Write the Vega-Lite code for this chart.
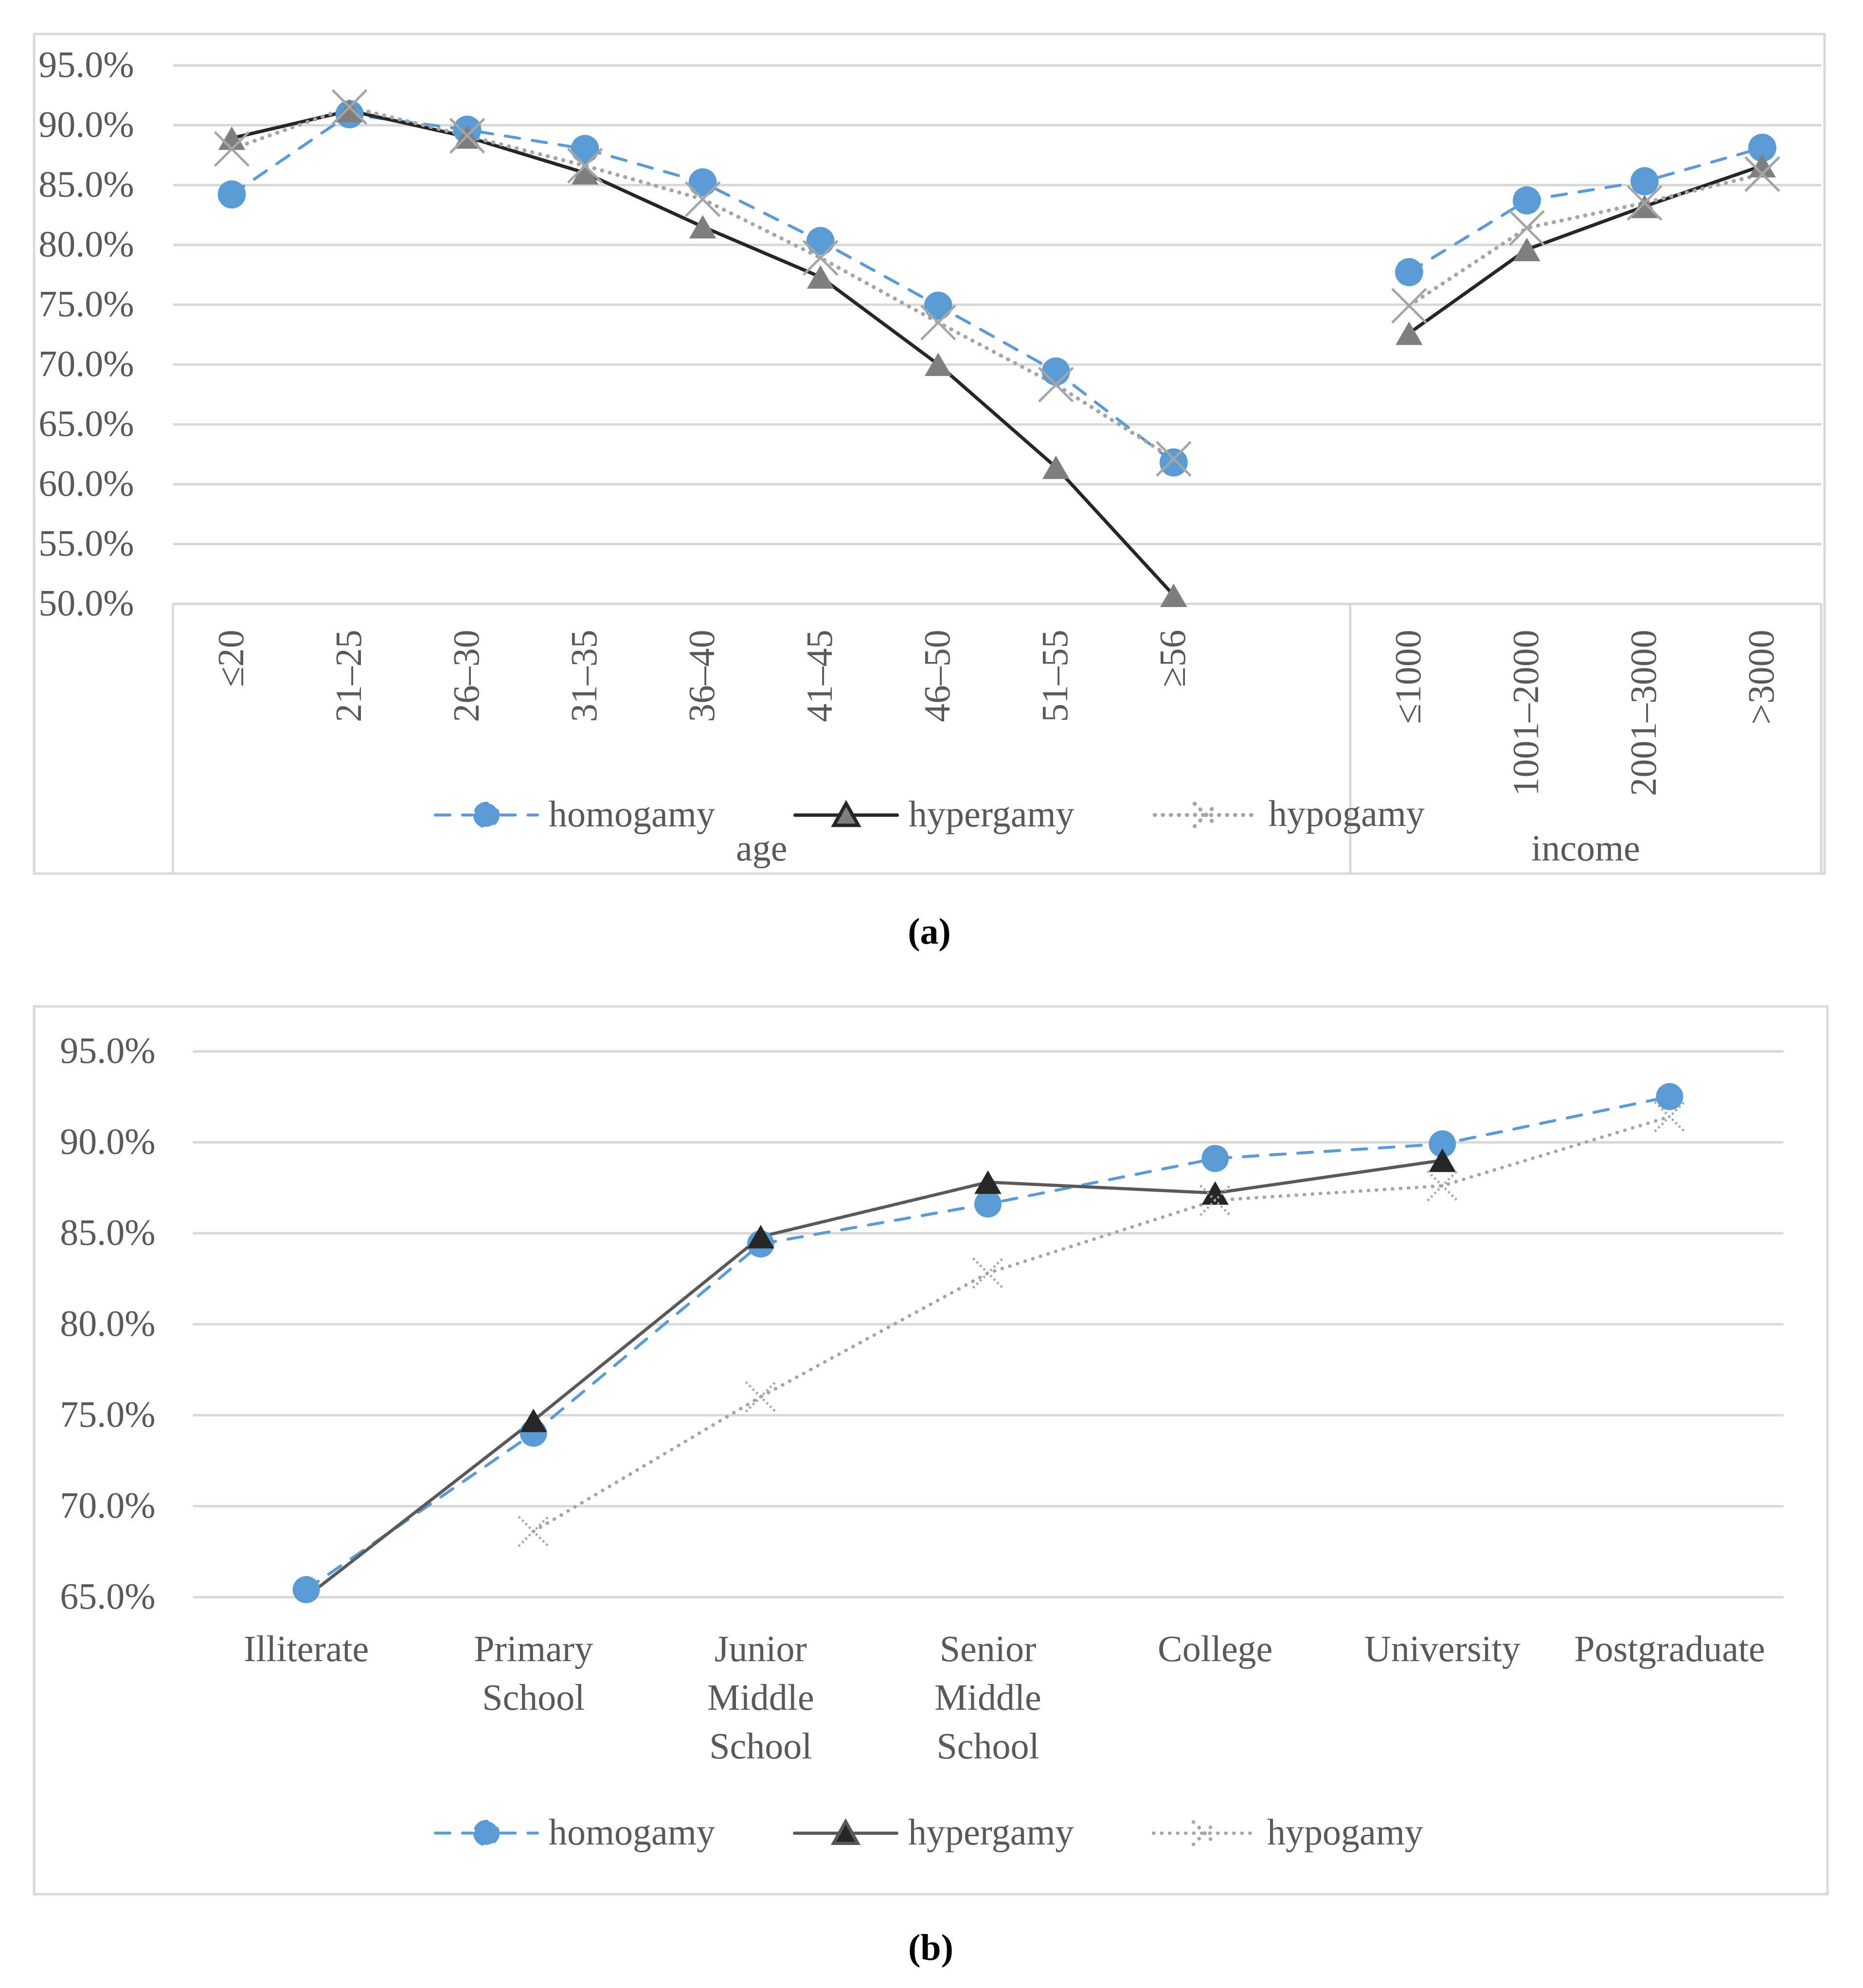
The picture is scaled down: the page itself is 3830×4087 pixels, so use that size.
{
  "$schema": "https://vega.github.io/schema/vega-lite/v6.json",
  "background": "white",
  "padding": {"left": 67, "top": 67, "right": 0, "bottom": 0},
  "spacing": 108,
  "datasets": {
    "a": [
      {"group": "age", "cat": "≤20", "series": "homogamy", "value": 0.842},
      {"group": "age", "cat": "21–25", "series": "homogamy", "value": 0.909},
      {"group": "age", "cat": "26–30", "series": "homogamy", "value": 0.896},
      {"group": "age", "cat": "31–35", "series": "homogamy", "value": 0.880},
      {"group": "age", "cat": "36–40", "series": "homogamy", "value": 0.852},
      {"group": "age", "cat": "41–45", "series": "homogamy", "value": 0.803},
      {"group": "age", "cat": "46–50", "series": "homogamy", "value": 0.749},
      {"group": "age", "cat": "51–55", "series": "homogamy", "value": 0.694},
      {"group": "age", "cat": "≥56", "series": "homogamy", "value": 0.618},
      {"group": "income", "cat": "≤1000", "series": "homogamy", "value": 0.777},
      {"group": "income", "cat": "1001–2000", "series": "homogamy", "value": 0.837},
      {"group": "income", "cat": "2001–3000", "series": "homogamy", "value": 0.853},
      {"group": "income", "cat": ">3000", "series": "homogamy", "value": 0.881},
      {"group": "age", "cat": "≤20", "series": "hypergamy", "value": 0.889},
      {"group": "age", "cat": "21–25", "series": "hypergamy", "value": 0.912},
      {"group": "age", "cat": "26–30", "series": "hypergamy", "value": 0.890},
      {"group": "age", "cat": "31–35", "series": "hypergamy", "value": 0.860},
      {"group": "age", "cat": "36–40", "series": "hypergamy", "value": 0.815},
      {"group": "age", "cat": "41–45", "series": "hypergamy", "value": 0.773},
      {"group": "age", "cat": "46–50", "series": "hypergamy", "value": 0.700},
      {"group": "age", "cat": "51–55", "series": "hypergamy", "value": 0.614},
      {"group": "age", "cat": "≥56", "series": "hypergamy", "value": 0.507},
      {"group": "income", "cat": "≤1000", "series": "hypergamy", "value": 0.726},
      {"group": "income", "cat": "1001–2000", "series": "hypergamy", "value": 0.796},
      {"group": "income", "cat": "2001–3000", "series": "hypergamy", "value": 0.832},
      {"group": "income", "cat": ">3000", "series": "hypergamy", "value": 0.866},
      {"group": "age", "cat": "≤20", "series": "hypogamy", "value": 0.880},
      {"group": "age", "cat": "21–25", "series": "hypogamy", "value": 0.915},
      {"group": "age", "cat": "26–30", "series": "hypogamy", "value": 0.891},
      {"group": "age", "cat": "31–35", "series": "hypogamy", "value": 0.866},
      {"group": "age", "cat": "36–40", "series": "hypogamy", "value": 0.838},
      {"group": "age", "cat": "41–45", "series": "hypogamy", "value": 0.789},
      {"group": "age", "cat": "46–50", "series": "hypogamy", "value": 0.735},
      {"group": "age", "cat": "51–55", "series": "hypogamy", "value": 0.683},
      {"group": "age", "cat": "≥56", "series": "hypogamy", "value": 0.621},
      {"group": "income", "cat": "≤1000", "series": "hypogamy", "value": 0.749},
      {"group": "income", "cat": "1001–2000", "series": "hypogamy", "value": 0.814},
      {"group": "income", "cat": "2001–3000", "series": "hypogamy", "value": 0.835},
      {"group": "income", "cat": ">3000", "series": "hypogamy", "value": 0.859}
    ],
    "b": [
      {"cat": "Illiterate", "series": "homogamy", "value": 0.654},
      {"cat": "Primary School", "series": "homogamy", "value": 0.740},
      {"cat": "Junior Middle School", "series": "homogamy", "value": 0.844},
      {"cat": "Senior Middle School", "series": "homogamy", "value": 0.866},
      {"cat": "College", "series": "homogamy", "value": 0.891},
      {"cat": "University", "series": "homogamy", "value": 0.899},
      {"cat": "Postgraduate", "series": "homogamy", "value": 0.925},
      {"cat": "Illiterate", "series": "hypergamy", "value": 0.648},
      {"cat": "Primary School", "series": "hypergamy", "value": 0.747},
      {"cat": "Junior Middle School", "series": "hypergamy", "value": 0.848},
      {"cat": "Senior Middle School", "series": "hypergamy", "value": 0.878},
      {"cat": "College", "series": "hypergamy", "value": 0.872},
      {"cat": "University", "series": "hypergamy", "value": 0.890},
      {"cat": "Primary School", "series": "hypogamy", "value": 0.686},
      {"cat": "Junior Middle School", "series": "hypogamy", "value": 0.760},
      {"cat": "Senior Middle School", "series": "hypogamy", "value": 0.828},
      {"cat": "College", "series": "hypogamy", "value": 0.868},
      {"cat": "University", "series": "hypogamy", "value": 0.876},
      {"cat": "Postgraduate", "series": "hypogamy", "value": 0.914}
    ]
  },
  "vconcat": [
    {
      "width": 3681,
      "height": 1726,
      "view": {"stroke": "#d9d9d9", "strokeWidth": 5, "fill": "white"},
      "title": {"text": "(a)", "orient": "bottom", "offset": 82, "anchor": "middle", "fontSize": 76, "fontWeight": "bold", "color": "#000000", "font": "Liberation Serif"},
      "data": {"name": "a"},
      "layer": [
        {
          "mark": {"type": "line", "strokeCap": "round", "strokeJoin": "round"},
          "encoding": {
            "x": {
              "field": "cat", "type": "nominal",
              "scale": {"type": "band", "domain": ["≤20", "21–25", "26–30", "31–35", "36–40", "41–45", "46–50", "51–55", "≥56", " ", "≤1000", "1001–2000", "2001–3000", ">3000"], "range": [285.5, 3674], "paddingInner": 0, "paddingOuter": 0},
              "axis": {"orient": "bottom", "offset": -555, "domain": false, "ticks": false, "tickSize": 0, "grid": false, "labelAngle": -90, "labelAlign": "right", "labelBaseline": "middle", "labelPadding": 53, "labelFontSize": 76, "labelFont": "Liberation Serif", "labelColor": "#595959", "labelOverlap": false, "labelLimit": 2000, "title": null}
            },
            "y": {
              "field": "value", "type": "quantitative",
              "scale": {"domain": [0.5, 0.95], "range": [1171, 64], "nice": false, "zero": false},
              "axis": {"orient": "left", "offset": -205, "domain": false, "ticks": false, "tickSize": 0, "grid": true, "gridColor": "#d9d9d9", "gridWidth": 5, "values": [0.5, 0.55, 0.6, 0.65, 0.7, 0.75, 0.8, 0.85, 0.9, 0.95], "format": ".1%", "labelPadding": 0, "labelLimit": 2000, "labelFontSize": 76, "labelFont": "Liberation Serif", "labelColor": "#595959", "title": null}
            },
            "detail": {"field": "group", "type": "nominal"},
            "stroke": {
              "field": "series", "type": "nominal",
              "scale": {"domain": ["homogamy", "hypergamy", "hypogamy"], "range": ["#5b9bd5", "#262626", "#a5a5a5"]},
              "legend": {
                "orient": "none", "legendX": 822, "legendY": 1496, "direction": "horizontal", "title": null,
                "symbolSize": 44100, "symbolStrokeWidth": 5, "labelFontSize": 76, "labelFont": "Liberation Serif", "labelColor": "#595959",
                "labelOffset": 20, "labelLimit": 2000, "columnPadding": 149, "gridAlign": "all",
                "encode": {"symbols": {"update": {
                  "shape": {"signal": "datum.value === 'homogamy' ? 'M-1,0H-0.28M0.28,0H1M-0.23,0A0.23,0.23,0,1,0,0.23,0A0.23,0.23,0,1,0,-0.23,0Z' : datum.value === 'hypergamy' ? 'M-1,0H-0.12M0.12,0H1M0,-0.23L0.24,0.2L-0.24,0.2Z' : 'M-1,0H1M-0.22,-0.22L0.22,0.22M-0.22,0.22L0.22,-0.22'"},
                  "fill": {"signal": "datum.value === 'homogamy' ? '#5b9bd5' : datum.value === 'hypergamy' ? '#7f7f7f' : 'transparent'"},
                  "strokeDash": {"signal": "datum.value === 'homogamy' ? [28, 26] : datum.value === 'hypergamy' ? [1, 0] : [0.5, 14]"},
                  "strokeWidth": {"value": 5},
                  "strokeCap": {"value": "round"},
                  "opacity": {"value": 1}
                }}}
              }
            },
            "strokeDash": {"field": "series", "type": "nominal", "scale": {"domain": ["homogamy", "hypergamy", "hypogamy"], "range": [[30, 26], [1, 0], [0.5, 16]]}, "legend": null},
            "strokeWidth": {"field": "series", "type": "nominal", "scale": {"domain": ["homogamy", "hypergamy", "hypogamy"], "range": [6, 8, 7]}, "legend": null}
          }
        },
        {
          "transform": [{"filter": "datum.series === 'homogamy'"}],
          "mark": {"type": "point", "filled": true, "opacity": 1, "strokeWidth": 0, "shape": "circle", "size": 3364, "fill": "#5b9bd5"},
          "encoding": {
            "x": {"field": "cat", "type": "nominal"},
            "y": {"field": "value", "type": "quantitative"}
          }
        },
        {
          "transform": [{"filter": "datum.series === 'hypergamy'"}],
          "mark": {"type": "point", "filled": true, "opacity": 1, "strokeWidth": 0, "shape": "triangle-up", "size": 3100, "fill": "#7f7f7f"},
          "encoding": {
            "x": {"field": "cat", "type": "nominal"},
            "y": {"field": "value", "type": "quantitative"}
          }
        },
        {
          "transform": [{"filter": "datum.series === 'hypogamy'"}],
          "mark": {"type": "point", "filled": false, "opacity": 1, "stroke": "#a5a5a5", "strokeWidth": 5, "shape": "M-1,-1L1,1M-1,1L1,-1", "size": 4900},
          "encoding": {
            "x": {"field": "cat", "type": "nominal"},
            "y": {"field": "value", "type": "quantitative"}
          }
        },
        {
          "data": {"values": [{}]},
          "mark": {"type": "rule", "color": "#d9d9d9", "strokeWidth": 5},
          "encoding": {
            "x": {"datum": "≤20", "bandPosition": 0},
            "y": {"datum": 0.5},
            "y2": {"datum": 0.2744}
          }
        },
        {
          "data": {"values": [{}]},
          "mark": {"type": "rule", "color": "#d9d9d9", "strokeWidth": 5},
          "encoding": {
            "x": {"datum": "≤1000", "bandPosition": 0},
            "y": {"datum": 0.5},
            "y2": {"datum": 0.2744}
          }
        },
        {
          "data": {"values": [{}]},
          "mark": {"type": "rule", "color": "#d9d9d9", "strokeWidth": 5},
          "encoding": {
            "x": {"datum": ">3000", "bandPosition": 1},
            "y": {"datum": 0.5},
            "y2": {"datum": 0.2744}
          }
        },
        {
          "data": {"values": [{}]},
          "mark": {"type": "text", "text": "age", "font": "Liberation Serif", "fontSize": 76, "color": "#595959", "align": "center", "baseline": "middle"},
          "encoding": {
            "x": {"datum": "41–45", "bandPosition": 0},
            "y": {"datum": 0.2947}
          }
        },
        {
          "data": {"values": [{}]},
          "mark": {"type": "text", "text": "income", "font": "Liberation Serif", "fontSize": 76, "color": "#595959", "align": "center", "baseline": "middle"},
          "encoding": {
            "x": {"datum": "2001–3000", "bandPosition": 0},
            "y": {"datum": 0.2947}
          }
        }
      ]
    },
    {
      "width": 3687,
      "height": 1825,
      "view": {"stroke": "#d9d9d9", "strokeWidth": 5, "fill": "white"},
      "title": {"text": "(b)", "orient": "bottom", "offset": 75, "anchor": "middle", "fontSize": 76, "fontWeight": "bold", "color": "#000000", "font": "Liberation Serif"},
      "data": {"name": "b"},
      "layer": [
        {
          "mark": {"type": "line", "strokeCap": "round", "strokeJoin": "round"},
          "encoding": {
            "x": {
              "field": "cat", "type": "nominal",
              "scale": {"type": "band", "domain": ["Illiterate", "Primary School", "Junior Middle School", "Senior Middle School", "College", "University", "Postgraduate"], "range": [326, 3596], "paddingInner": 0, "paddingOuter": 0},
              "axis": {"orient": "bottom", "offset": -611, "domain": false, "ticks": false, "tickSize": 0, "grid": false, "labelAngle": 0, "labelAlign": "center", "labelBaseline": "top", "labelPadding": 71, "labelExpr": "split(datum.label, ' ')", "labelLineHeight": 100, "labelFontSize": 76, "labelFont": "Liberation Serif", "labelColor": "#595959", "labelOverlap": false, "labelLimit": 2000, "title": null}
            },
            "y": {
              "field": "value", "type": "quantitative",
              "scale": {"domain": [0.65, 0.95], "range": [1214, 92], "nice": false, "zero": false, "clamp": true},
              "axis": {"orient": "left", "offset": -249, "domain": false, "ticks": false, "tickSize": 0, "grid": true, "gridColor": "#d9d9d9", "gridWidth": 5, "values": [0.65, 0.7, 0.75, 0.8, 0.85, 0.9, 0.95], "format": ".1%", "labelPadding": 0, "labelLimit": 2000, "labelFontSize": 76, "labelFont": "Liberation Serif", "labelColor": "#595959", "title": null}
            },
            "stroke": {
              "field": "series", "type": "nominal",
              "scale": {"domain": ["homogamy", "hypergamy", "hypogamy"], "range": ["#5b9bd5", "#595959", "#a5a5a5"]},
              "legend": {
                "orient": "none", "legendX": 822, "legendY": 1591, "direction": "horizontal", "title": null,
                "symbolSize": 44100, "symbolStrokeWidth": 5, "labelFontSize": 76, "labelFont": "Liberation Serif", "labelColor": "#595959",
                "labelOffset": 20, "labelLimit": 2000, "columnPadding": 149, "gridAlign": "all",
                "encode": {"symbols": {"update": {
                  "shape": {"signal": "datum.value === 'homogamy' ? 'M-1,0H-0.28M0.28,0H1M-0.23,0A0.23,0.23,0,1,0,0.23,0A0.23,0.23,0,1,0,-0.23,0Z' : datum.value === 'hypergamy' ? 'M-1,0H-0.12M0.12,0H1M0,-0.23L0.24,0.2L-0.24,0.2Z' : 'M-1,0H1M-0.22,-0.22L0.22,0.22M-0.22,0.22L0.22,-0.22'"},
                  "fill": {"signal": "datum.value === 'homogamy' ? '#5b9bd5' : datum.value === 'hypergamy' ? '#262626' : 'transparent'"},
                  "strokeDash": {"signal": "datum.value === 'homogamy' ? [28, 26] : datum.value === 'hypergamy' ? [1, 0] : [0.5, 14]"},
                  "strokeWidth": {"value": 5},
                  "strokeCap": {"value": "round"},
                  "opacity": {"value": 1}
                }}}
              }
            },
            "strokeDash": {"field": "series", "type": "nominal", "scale": {"domain": ["homogamy", "hypergamy", "hypogamy"], "range": [[30, 26], [1, 0], [0.5, 16]]}, "legend": null},
            "strokeWidth": {"field": "series", "type": "nominal", "scale": {"domain": ["homogamy", "hypergamy", "hypogamy"], "range": [6, 7, 7]}, "legend": null}
          }
        },
        {
          "transform": [{"filter": "datum.series === 'homogamy' && datum.value >= 0.65"}],
          "mark": {"type": "point", "filled": true, "opacity": 1, "strokeWidth": 0, "shape": "circle", "size": 3136, "fill": "#5b9bd5"},
          "encoding": {
            "x": {"field": "cat", "type": "nominal"},
            "y": {"field": "value", "type": "quantitative"}
          }
        },
        {
          "transform": [{"filter": "datum.series === 'hypergamy' && datum.value >= 0.65"}],
          "mark": {"type": "point", "filled": true, "opacity": 1, "strokeWidth": 0, "shape": "triangle-up", "size": 3100, "fill": "#262626"},
          "encoding": {
            "x": {"field": "cat", "type": "nominal"},
            "y": {"field": "value", "type": "quantitative"}
          }
        },
        {
          "transform": [{"filter": "datum.series === 'hypogamy' && datum.value >= 0.65"}],
          "mark": {"type": "point", "filled": false, "opacity": 1, "stroke": "#a5a5a5", "strokeWidth": 5, "strokeDash": [4, 6], "shape": "M-1,-1L1,1M-1,1L1,-1", "size": 3700},
          "encoding": {
            "x": {"field": "cat", "type": "nominal"},
            "y": {"field": "value", "type": "quantitative"}
          }
        }
      ]
    }
  ],
  "resolve": {
    "scale": {"stroke": "independent", "strokeDash": "independent", "strokeWidth": "independent"},
    "legend": {"stroke": "independent"}
  },
  "config": {
    "font": "Liberation Serif",
    "view": {"stroke": null}
  }
}
